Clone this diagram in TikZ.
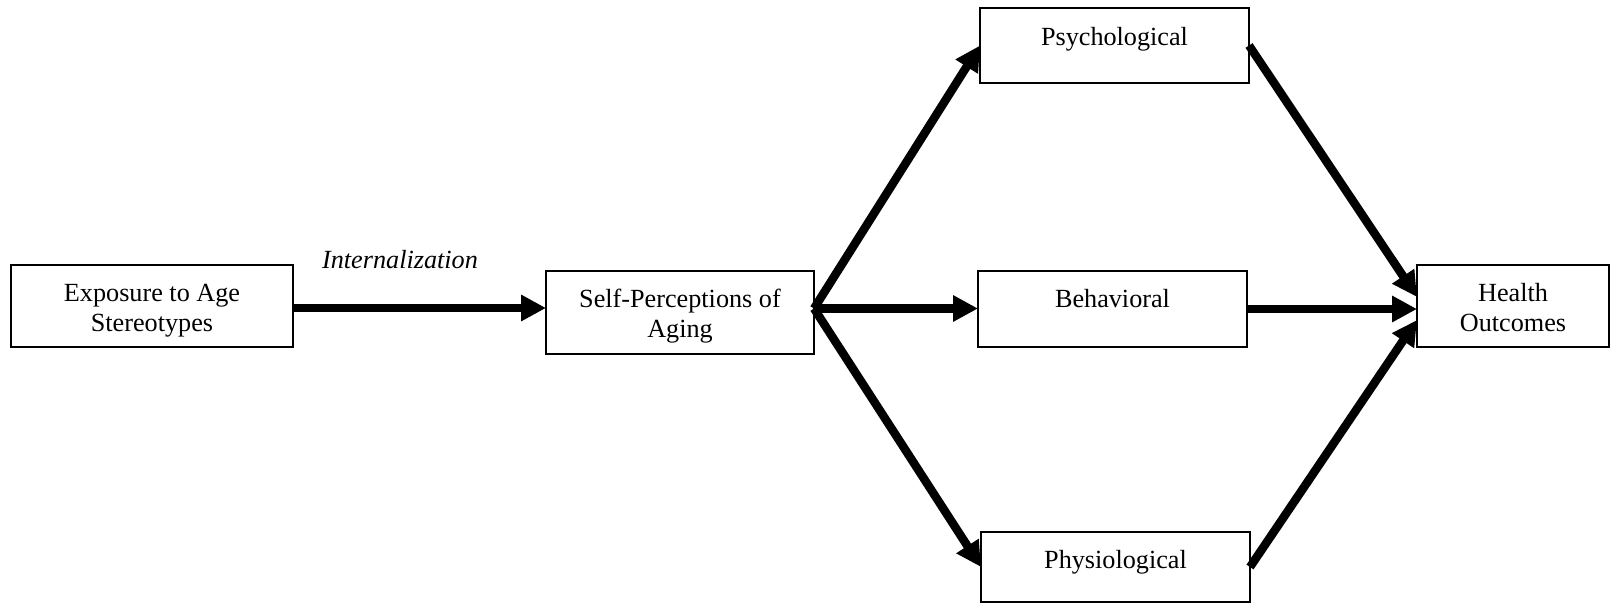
\documentclass[tikz,border=0pt]{standalone}
\usepackage{fontspec}
\setmainfont{Liberation Serif}
\usetikzlibrary{arrows.meta,calc}
\begin{document}
\begin{tikzpicture}[x=0.5pt,y=-0.5pt,
  box/.style={draw, line width=0.6pt, rectangle, inner sep=0pt, outer sep=0pt, align=center,
    font=\fontsize{13.1pt}{15pt}\selectfont},
  arr/.style={line width=4.25pt, -{Triangle[length=12.5pt,width=12.5pt]}},
  lbl/.style={font=\itshape\fontsize{13.1pt}{15pt}\selectfont, inner sep=0pt}]
\useasboundingbox (0,0) rectangle (1610,603);

\node[box, minimum width=141pt, minimum height=41pt, text height=28.1pt] (expo) at (152,306) {Exposure to Age\\Stereotypes};
\node[box, minimum width=134pt, minimum height=41.5pt, text height=27.7pt] (spa) at (680,312.5) {Self-Perceptions of\\Aging};
\node[box, minimum width=134.5pt, minimum height=37.5pt, text height=9pt, text depth=9.4pt] (psych) at (1114.5,45.5) {Psychological};
\node[box, minimum width=134.5pt, minimum height=38pt, text height=9pt, text depth=10.4pt] (beh) at (1112.5,309) {Behavioral};
\node[box, minimum width=134.5pt, minimum height=35pt, text height=9pt, text depth=7.4pt] (phys) at (1115.5,567) {Physiological};
\node[box, minimum width=96pt, minimum height=41pt, text height=25.2pt] (health) at (1513,306) {Health\\Outcomes};

\node[lbl] (intl) at (400,260) {Internalization};

\coordinate (a1) at ([yshift=-1pt]expo.east);
\draw[arr] (a1) -- (a1 -| spa.west);

\coordinate (fan) at ([yshift=2pt]spa.east);
\draw[arr] (fan) -- (psych.west);
\draw[arr] (fan) -- (fan -| beh.west);
\draw[arr] (fan) -- (phys.west);

\draw[arr] (psych.east) -- ([yshift=4.5pt]health.west);
\draw[arr] (beh.east) -- (beh.east -| health.west);
\draw[arr] (phys.east) -- ([yshift=-7pt]health.west);
\end{tikzpicture}
\end{document}
